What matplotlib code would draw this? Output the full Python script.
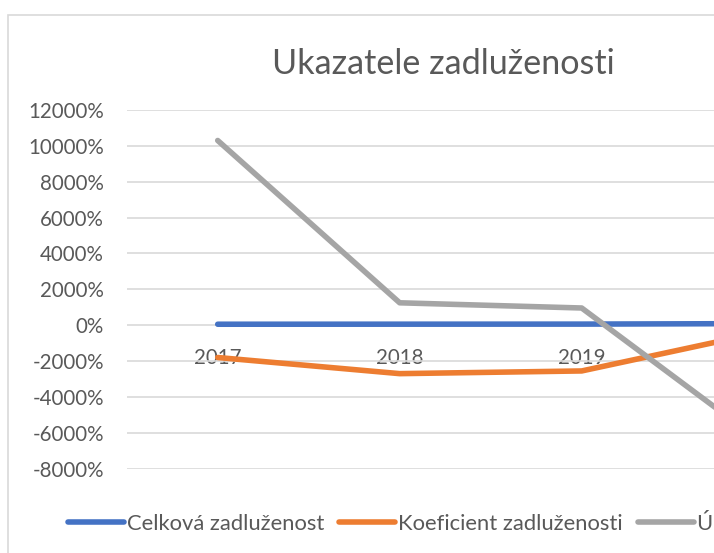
import matplotlib
matplotlib.use('Agg')
import matplotlib.pyplot as plt
from matplotlib.patches import Rectangle
from matplotlib.ticker import FuncFormatter

# values in percent
years = ['2017', '2018', '2019', '2020']
celkova = [55, 58, 62, 90]
koeficient = [-1800, -2700, -2550, -370]
urokove = [10300, 1250, 960, -6600]
series_names = ['Celková zadluženost', 'Koeficient zadluženosti', 'Úrokové krytí']
y_ticks = list(range(-8000, 12001, 2000))

text_color = '#595959'
grid_color = '#D9D9D9'
colors = ['#4472C4', '#ED7D31', '#A5A5A5']

plt.rcParams['font.family'] = ['Lato', 'DejaVu Sans']

W, H = 714, 553
fig = plt.figure(figsize=(W / 100, H / 100), dpi=100)

# chart frame (the reference is cropped on the right and bottom)
fig.patches.append(Rectangle((8 / W, -0.2), 2.0, 0.2 + (H - 15) / H,
                             transform=fig.transFigure, fill=False,
                             edgecolor=grid_color, linewidth=1.2))

# plot area runs past the right edge of the picture, like in the reference
left, right = 126.7, 854.7
top, bottom = 110.0, 468.7
ax = fig.add_axes([left / W, (H - bottom) / H, (right - left) / W, (bottom - top) / H])

xs = list(range(len(years)))
for vals, color in zip([celkova, koeficient, urokove], colors):
    ax.plot(xs, vals, color=color, linewidth=4, solid_capstyle='round',
            solid_joinstyle='round', zorder=3)

ax.set_xlim(-0.5, len(years) - 0.5)
ax.set_ylim(y_ticks[0], y_ticks[-1])
ax.set_yticks(y_ticks)
ax.yaxis.set_major_formatter(FuncFormatter(lambda v, p: f'{int(v)}%'))
ax.set_xticks(xs)
ax.set_xticklabels(years)

for s in ax.spines.values():
    s.set_visible(False)
ax.spines['bottom'].set_position(('data', 0))
ax.grid(axis='y', color=grid_color, linewidth=1.2, zorder=0)
ax.set_axisbelow(True)
ax.tick_params(axis='both', length=0, labelsize=14.8, labelcolor=text_color)
ax.tick_params(axis='y', pad=16.5)
ax.tick_params(axis='x', pad=16.5)

fig.text(443 / W, (H - 74) / H, 'Ukazatele zadluženosti', ha='center', va='baseline',
         fontsize=24.6, color=text_color)

handles = [plt.Line2D([], [], color=c, linewidth=4, solid_capstyle='round') for c in colors]
fig.legend(handles, series_names, loc='center left', bbox_to_anchor=(68 / W, (H - 522) / H),
           ncol=3, frameon=False, borderpad=0, borderaxespad=0, fontsize=15.8,
           handlelength=2.55, handletextpad=0.14, columnspacing=0.68, labelcolor=text_color)

fig.savefig('out.png', dpi=100)
